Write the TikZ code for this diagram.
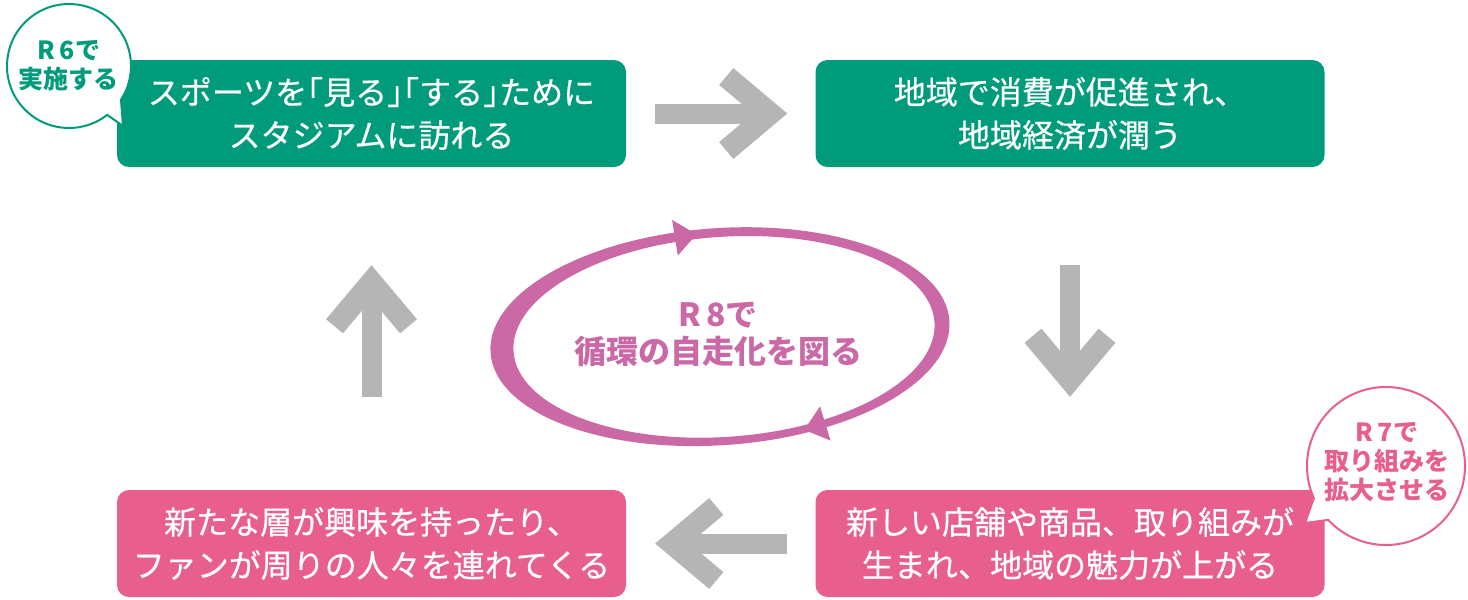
\documentclass[tikz,border=0pt]{standalone}
\usepackage{fontspec}
\setmainfont{Noto Sans CJK JP}
\newfontfamily\boxfont{Noto Sans CJK JP}[FakeBold=0.5]
\usetikzlibrary{arrows.meta}

\definecolor{boxgreen}{HTML}{009B7B}
\definecolor{boxpink}{HTML}{E85E8C}
\definecolor{loopmauve}{HTML}{CA69A5}
\definecolor{arrowgray}{HTML}{B5B5B5}

\newcommand{\halfw}[1]{{\addfontfeature{RawFeature=+halt}#1}}

\begin{document}
\begin{tikzpicture}[x=1pt, y=-1pt,
    stepbox/.style={rounded corners=12pt, minimum width=509pt, minimum height=107pt,
        inner sep=0pt, text=white, align=center, font=\boxfont\fontsize{32}{43}\selectfont},
    greenbox/.style={stepbox, fill=boxgreen},
    pinkbox/.style={stepbox, fill=boxpink},
    bigarrow/.style={draw=arrowgray, line width=20pt,
        -{Straight Barb[sharp, length=44pt, width=74pt, line width=22pt]}},
    note/.style={fill=white, line width=2pt},
    notetext/.style={inner sep=0pt, align=center, font=\bfseries\fontsize{25}{29}\selectfont}]
                \useasboundingbox (0,0) rectangle (1468,600);
                % Boxes of the cycle:
                \node[greenbox] (see) at (371.5,113.5) {スポーツを\halfw{「}見る\halfw{」「}する\halfw{」}ために\\スタジアムに訪れる};
                \node[greenbox] (spend) at (1070,113.5) {地域で消費が促進され、\\地域経済が潤う};
                \node[pinkbox] (charm) at (1070,543.5) {新しい店舗や商品、取り組みが\\生まれ、地域の魅力が上がる};
                \node[pinkbox] (fans) at (371.5,543.5) {新たな層が興味を持ったり、\\ファンが周りの人々を連れてくる};
                % Gray arrows:
                \draw[bigarrow, shorten <=29pt, shorten >=28pt] (see) -- (spend);
                \draw[bigarrow, shorten <=98pt, shorten >=93pt] (spend) -- (charm);
                \draw[bigarrow, shorten <=28pt, shorten >=29pt] (charm) -- (fans);
                \draw[bigarrow, shorten <=93pt, shorten >=98pt] (fans) -- (see);
                % Loop in the middle:
                \begin{scope}[shift={(722,337)}, rotate=4]
                    \fill[loopmauve, even odd rule] (-2,-0.5) ellipse [x radius=230, y radius=108.5]
                        (2,0) ellipse [x radius=211, y radius=100];
                    \fill[loopmauve] (-18.1,-104.2) -- (-38.4,-84.4) -- (-41.6,-120.2) -- cycle;
                    \fill[loopmauve] (75.6,98.4) -- (101.05,110.9) -- (92.95,75.9) -- cycle;
                \end{scope}
                \node[font=\bfseries\fontsize{32}{37}\selectfont, text=loopmauve, align=center] (loop) at (718,334) {R\,8で\\循環の自走化を図る};
                % Speech bubbles:
                \coordinate (c6) at (69,66);
                \coordinate (t6) at (123,126);
                \filldraw[note, draw=boxgreen] (t6) -- ([shift={(52:62)}]c6) arc[start angle=52, end angle=393, radius=62] -- cycle;
                \node[notetext, text=boxgreen] (r6) at (c6) {R\,6で\\実施する};
                \coordinate (c7) at (1386,466);
                \coordinate (t7) at (1305,523);
                \filldraw[note, draw=boxpink] (t7) -- ([shift={(156:79)}]c7) arc[start angle=156, end angle=497, radius=79] -- cycle;
                \node[notetext, text=boxpink] (r7) at (1387,462) {R\,7で\\取り組みを\\拡大させる};
            \end{tikzpicture}
\end{document}
